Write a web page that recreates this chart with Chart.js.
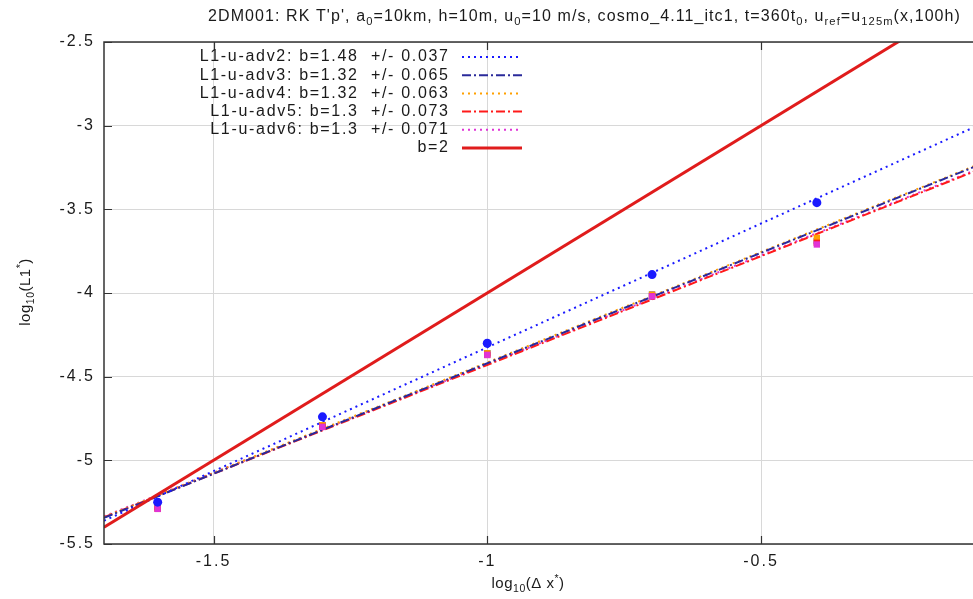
<!DOCTYPE html>
<html>
<head>
<meta charset="utf-8">
<script src="https://cdn.jsdelivr.net/npm/chart.js@4/dist/chart.umd.min.js"></script>
<style>
  html, body { margin: 0; padding: 0; background: #fff; overflow: hidden; }
  #wrap { width: 990px; height: 599px; }
</style>
</head>
<body>
<div id="wrap"><canvas id="c" width="990" height="599"></canvas></div>
<script>
// log10 of the grid spacing for the five resolutions
const logDx = [-1.602, -1.301, -1.0, -0.699, -0.398];

// log10 of the L1 error for each advection scheme
const adv2 = [-5.25, -4.74, -4.30, -3.89, -3.46];
const adv3 = [-5.28, -4.79, -4.36, -4.01, -3.69];
const adv4 = [-5.28, -4.79, -4.36, -4.01, -3.67];
const adv5 = [-5.29, -4.80, -4.37, -4.02, -3.70];
const adv6 = [-5.29, -4.80, -4.37, -4.02, -3.71];

// fitted convergence rates b, their errors and intercepts a of log10(L1) = a + b*log10(dx)
const seriesNames = ['L1-u-adv2', 'L1-u-adv3', 'L1-u-adv4', 'L1-u-adv5', 'L1-u-adv6'];
const fitSlope = [1.48, 1.32, 1.32, 1.3, 1.3];
const fitError = [0.037, 0.065, 0.063, 0.073, 0.071];
const fitIntercept = [-2.845, -3.10, -3.095, -3.13, -3.125];

// reference second-order line: log10(L1) = -2 + 2*log10(dx)
const refSlope = 2;
const refIntercept = -2;

const xTicks = [-1.5, -1, -0.5];
const yTicks = [-5.5, -5, -4.5, -4, -3.5, -3, -2.5];
const xRange = [-1.7, -0.1];
const yRange = [-5.5, -2.5];

const errors = [adv2, adv3, adv4, adv5, adv6];
const colors = ['#1a1aff', '#2a2a9a', '#ffa000', '#ff1a1a', '#e033d6'];
const dashes = [[2, 4], [9, 3, 2, 3], [2, 4], [9, 3, 2, 3], [2, 4]];
const pointStyles = ['circle', 'rect', 'rect', 'rect', 'rect'];
const FONT = '"Liberation Sans", Arial, sans-serif';

const datasets = [];
errors.forEach((vals, i) => {
  datasets.push({
    type: 'scatter',
    label: seriesNames[i] + ' data',
    data: logDx.map((x, k) => ({ x: x, y: vals[k] })),
    pointStyle: pointStyles[i],
    pointRadius: 4.5,
    backgroundColor: colors[i],
    borderColor: colors[i],
    borderWidth: 0,
    order: i === 0 ? 1 : 6 - i
  });
});
errors.forEach((vals, i) => {
  datasets.push({
    type: 'line',
    label: seriesNames[i] + ' fit',
    data: xRange.map(x => ({ x: x, y: fitIntercept[i] + fitSlope[i] * x })),
    borderColor: colors[i],
    borderWidth: 2,
    borderDash: dashes[i],
    pointRadius: 0,
    fill: false,
    order: 10 + i
  });
});
datasets.push({
  type: 'line',
  label: 'b=2',
  data: xRange.map(x => ({ x: x, y: refIntercept + refSlope * x })),
  borderColor: '#e01c1c',
  borderWidth: 3,
  pointRadius: 0,
  fill: false,
  order: 9
});

// runs of text pieces where some are subscripts or superscripts
function richWidth(ctx, parts, size, sp) {
  let w = 0;
  parts.forEach(p => {
    const s = p.sub || p.sup ? size * 0.7 : size;
    ctx.font = s + 'px ' + FONT;
    ctx.letterSpacing = sp + 'px';
    w += ctx.measureText(p.t).width;
  });
  return w;
}
function charCount(parts) {
  return parts.reduce((n, p) => n + p.t.length, 0);
}
function drawRich(ctx, parts, x, y, size, sp) {
  ctx.textBaseline = 'alphabetic';
  ctx.textAlign = 'left';
  parts.forEach(p => {
    const s = p.sub || p.sup ? size * 0.7 : size;
    ctx.font = s + 'px ' + FONT;
    ctx.letterSpacing = sp + 'px';
    const dy = p.sub ? size * 0.25 : (p.sup ? -size * 0.4 : 0);
    ctx.fillText(p.t, x, y + dy);
    x += ctx.measureText(p.t).width;
  });
}

const titleParts = [
  { t: "2DM001: RK T'p', a" }, { t: '0', sub: true },
  { t: '=10km, h=10m, u' }, { t: '0', sub: true },
  { t: '=10 m/s, cosmo_4.11_itc1, t=360t' }, { t: '0', sub: true },
  { t: ', u' }, { t: 'ref', sub: true },
  { t: '=u' }, { t: '125m', sub: true },
  { t: '(x,100h)' }
];
const xLabelParts = [{ t: 'log' }, { t: '10', sub: true }, { t: '(\u0394 x' }, { t: '*', sup: true }, { t: ')' }];
const yLabelParts = [{ t: 'log' }, { t: '10', sub: true }, { t: '(L1' }, { t: '*', sup: true }, { t: ')' }];

const decorations = {
  id: 'decorations',
  beforeDraw(chart) {
    // wide gnuplot-like spacing for the tick numbers
    chart.ctx.letterSpacing = '2px';
  },
  afterDraw(chart) {
    const ctx = chart.ctx;
    const a = chart.chartArea;
    const xs = chart.scales.x, ys = chart.scales.y;
    ctx.save();
    ctx.fillStyle = '#1a1a1a';

    // frame: left, top, bottom
    ctx.strokeStyle = '#333';
    ctx.lineWidth = 1.5;
    ctx.beginPath();
    ctx.moveTo(a.right + 20, a.top); ctx.lineTo(a.left, a.top);
    ctx.lineTo(a.left, a.bottom); ctx.lineTo(a.right + 20, a.bottom);
    ctx.stroke();

    // inward tick marks
    ctx.lineWidth = 1.2;
    ctx.beginPath();
    xTicks.forEach(v => {
      const px = Math.round(xs.getPixelForValue(v)) + 0.5;
      ctx.moveTo(px, a.bottom); ctx.lineTo(px, a.bottom - 8);
      ctx.moveTo(px, a.top); ctx.lineTo(px, a.top + 8);
    });
    yTicks.forEach(v => {
      const py = Math.round(ys.getPixelForValue(v)) + 0.5;
      ctx.moveTo(a.left, py); ctx.lineTo(a.left + 8, py);
    });
    ctx.stroke();

    // title, spread from x=208 to x=961
    const tSize = 16;
    const tBase = richWidth(ctx, titleParts, tSize, 0);
    const tSp = (753 - tBase) / charCount(titleParts);
    drawRich(ctx, titleParts, 208, 21, tSize, tSp);

    // axis titles
    const lSize = 15;
    const xw = richWidth(ctx, xLabelParts, lSize, 0.5);
    drawRich(ctx, xLabelParts, 528 - xw / 2, 588, lSize, 0.5);
    ctx.save();
    ctx.translate(30, 292);
    ctx.rotate(-Math.PI / 2);
    const yw = richWidth(ctx, yLabelParts, lSize, 0.5);
    drawRich(ctx, yLabelParts, -yw / 2, 0, lSize, 0.5);
    ctx.restore();

    // key
    const rows = seriesNames.map((n, i) =>
      n + ': b=' + fitSlope[i] + '  +/- ' + fitError[i]);
    rows.push('b=2');
    ctx.font = '16px ' + FONT;
    ctx.letterSpacing = '0px';
    const w0 = ctx.measureText(rows[0]).width;
    const kSp = (250 - w0) / rows[0].length;
    ctx.letterSpacing = kSp + 'px';
    ctx.textAlign = 'right';
    ctx.textBaseline = 'middle';
    rows.forEach((txt, i) => {
      const y = 57 + i * 18.2;
      ctx.fillStyle = '#1a1a1a';
      ctx.fillText(txt, 448 + kSp, y);
      ctx.beginPath();
      if (i < 5) {
        ctx.strokeStyle = colors[i];
        ctx.lineWidth = 2;
        ctx.setLineDash(dashes[i]);
      } else {
        ctx.strokeStyle = '#e01c1c';
        ctx.lineWidth = 3;
        ctx.setLineDash([]);
      }
      ctx.moveTo(462, y); ctx.lineTo(522, y);
      ctx.stroke();
    });
    ctx.setLineDash([]);
    ctx.letterSpacing = '0px';
    ctx.restore();
  }
};

new Chart(document.getElementById('c'), {
  data: { datasets: datasets },
  options: {
    responsive: false,
    animation: false,
    layout: { padding: { left: 0, top: 42, right: 10, bottom: 0 } },
    plugins: { legend: { display: false }, tooltip: { enabled: false }, title: { display: false } },
    scales: {
      x: {
        type: 'linear',
        min: xRange[0], max: xRange[1],
        afterBuildTicks: s => { s.ticks = xTicks.map(v => ({ value: v })); },
        afterFit: s => { s.height = 55; },
        ticks: {
          callback: v => String(v),
          color: '#1a1a1a',
          font: { family: FONT, size: 16 },
          padding: 8,
          maxRotation: 0
        },
        grid: { color: '#d8d8d8', lineWidth: 1, drawTicks: false },
        border: { display: false }
      },
      y: {
        type: 'linear',
        min: yRange[0], max: yRange[1],
        afterBuildTicks: s => { s.ticks = yTicks.map(v => ({ value: v })); },
        afterFit: s => { s.width = 104; },
        ticks: {
          callback: v => String(v),
          color: '#1a1a1a',
          font: { family: FONT, size: 16 },
          padding: 9
        },
        grid: { color: '#d8d8d8', lineWidth: 1, drawTicks: false },
        border: { display: false }
      }
    }
  },
  plugins: [decorations]
});
</script>
</body>
</html>
